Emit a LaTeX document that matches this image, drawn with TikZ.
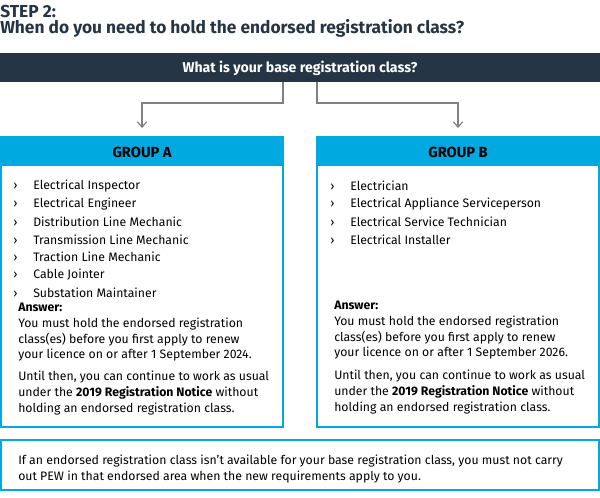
\documentclass[tikz,border=0pt]{standalone}
\usepackage{fontspec}
\setmainfont{Fira Sans}
\usetikzlibrary{arrows.meta,positioning}
\definecolor{navy}{HTML}{253545}
\definecolor{cyanbar}{HTML}{00A9E0}
\tikzset{
  item/.style={anchor=west,inner sep=0pt,font=\fontsize{9.2}{12}\selectfont},
  para/.style={anchor=north west,inner sep=0pt,align=left,font=\fontsize{9.2}{11.8}\selectfont},
  conn/.style={draw=gray,line width=0.9pt,-{Straight Barb[length=4pt,width=7pt]}},
  headtext/.style={font=\fontsize{11}{13}\selectfont\bfseries}
}
\newcommand{\grpitems}[3]{% x, first y, list
  \foreach \txt [count=\i from 0] in {#3} {
    \node[item] at (#1,#2+17.8*\i) {\rlap{\hspace{-15pt}›}\txt};
  }
}
\begin{document}
\begin{tikzpicture}[x=0.75pt,y=-0.75pt]
\useasboundingbox (0,0) rectangle (600,497);

% title
\node[anchor=west,inner sep=0pt,font=\fontsize{13}{15}\selectfont\bfseries,text=navy] (step) at (0,11) {STEP 2:};
\node[anchor=west,inner sep=0pt,font=\fontsize{13}{15}\selectfont\bfseries,text=navy] (when) at (0,28) {When do you need to hold the endorsed registration class?};

% question bar
\fill[navy] (0,53) rectangle (600,82);
\node[text=white,font=\fontsize{10.6}{12}\selectfont\bfseries] (q) at (300,68) {What is your base registration class?};
\coordinate (qa) at (283,82);
\coordinate (qb) at (317,82);
\coordinate (ta) at (142,128);
\coordinate (tb) at (458,128);
\draw[conn] (qa) -- (283,103) -| (ta);
\draw[conn] (qb) -- (317,103) -| (tb);

% group boxes
\draw[cyanbar,line width=1.2pt] (1,137) rectangle (283,427);
\draw[cyanbar,line width=1.2pt] (317,137) rectangle (599,427);
\fill[cyanbar] (1,137) rectangle (283,166);
\fill[cyanbar] (317,137) rectangle (599,166);
\node[headtext] (ha) at (142,152) {GROUP A};
\node[headtext] (hb) at (458,152) {GROUP B};

\grpitems{33}{186}{Electrical Inspector,Electrical Engineer,Distribution Line Mechanic,Transmission Line Mechanic,Traction Line Mechanic,Cable Jointer,Substation Maintainer}
\grpitems{350}{186}{Electrician,Electrical Appliance Serviceperson,Electrical Service Technician,Electrical Installer}

\node[para] (ansa) at (18,303) {\textbf{Answer:}\\You must hold the endorsed registration\\class(es) before you first apply to renew\\your licence on or after 1 September 2024.};
\node[para] (untila) at (18,371) {Until then, you can continue to work as usual\\under the \textbf{2019 Registration Notice} without\\holding an endorsed registration class.};
\node[para] (ansb) at (334,301) {\textbf{Answer:}\\You must hold the endorsed registration\\class(es) before you first apply to renew\\your licence on or after 1 September 2026.};
\node[para] (untilb) at (334,370) {Until then, you can continue to work as usual\\under the \textbf{2019 Registration Notice} without\\holding an endorsed registration class.};

% note box
\draw[cyanbar,line width=1.2pt] (1,440) rectangle (599,490);
\node[para] (note) at (18,455) {If an endorsed registration class isn’t available for your base registration class, you must not carry\\out PEW in that endorsed area when the new requirements apply to you.};
\end{tikzpicture}
\end{document}
